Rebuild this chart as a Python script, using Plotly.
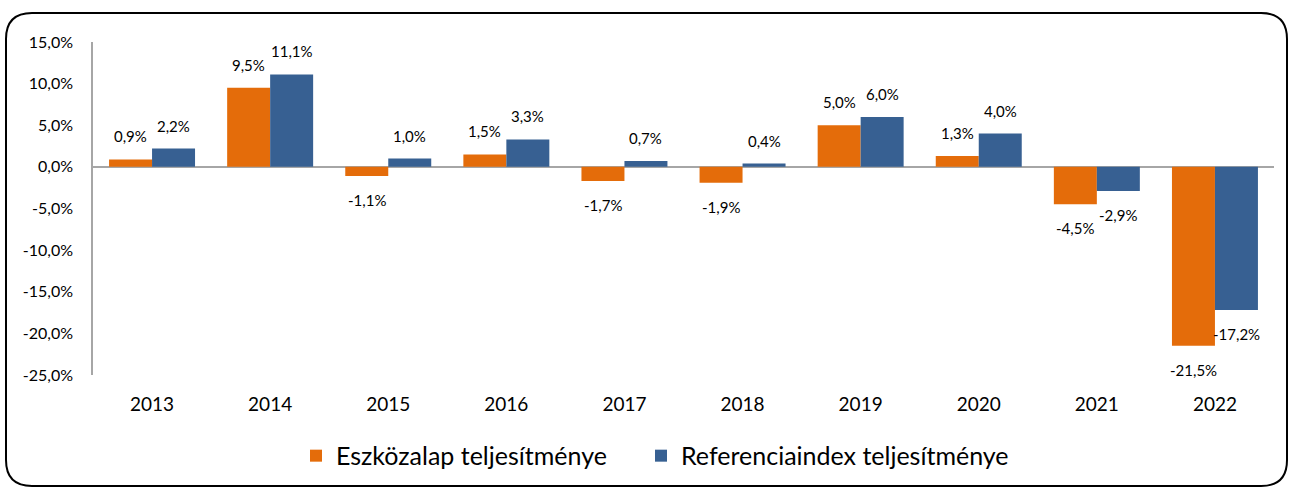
import plotly.graph_objects as go

years = ["2013", "2014", "2015", "2016", "2017", "2018", "2019", "2020", "2021", "2022"]
fund = [0.9, 9.5, -1.1, 1.5, -1.7, -1.9, 5.0, 1.3, -4.5, -21.5]
index = [2.2, 11.1, 1.0, 3.3, 0.7, 0.4, 6.0, 4.0, -2.9, -17.2]
series_names = ["Eszközalap teljesítménye", "Referenciaindex teljesítménye"]
ytick_vals = [15, 10, 5, 0, -5, -10, -15, -20, -25]
ytick_text = ["15,0%", "10,0%", "5,0%", "0,0%", "-5,0%", "-10,0%", "-15,0%", "-20,0%", "-25,0%"]

ORANGE = "#E46C0A"
BLUE = "#376092"
FONT = "Lato"

W, H = 1293, 490
L, R, T, B = 93, 19, 42, 115
pw, ph = W - L - R, H - T - B

def fmt(v):
    return f"{v:.1f}".replace(".", ",") + "%"

fig = go.Figure()
fig.add_trace(go.Bar(x=years, y=fund, name=series_names[0], legend="legend",
                     marker=dict(color=ORANGE, line=dict(width=0))))
fig.add_trace(go.Bar(x=years, y=index, name=series_names[1], legend="legend2",
                     marker=dict(color=BLUE, line=dict(width=0))))

annotations = []
for vals, xs in ((fund, -21.5), (index, 21.5)):
    for i, v in enumerate(vals):
        annotations.append(dict(
            x=i, y=v, xref="x", yref="y", text=fmt(v), showarrow=False,
            xshift=xs, yshift=23 if v >= 0 else -24, yanchor="middle", xanchor="center",
            font=dict(family=FONT, size=15, color="#000000")))

# rounded outer border (pixel coords -> paper coords)
def px(x):
    return (x - L) / pw
def py(y):
    return (H - B - y) / ph

x0, x1, y0, y1, r = 6, 1287, 13, 486, 26
path = (f"M {px(x0 + r)},{py(y0)} L {px(x1 - r)},{py(y0)} Q {px(x1)},{py(y0)} {px(x1)},{py(y0 + r)} "
        f"L {px(x1)},{py(y1 - r)} Q {px(x1)},{py(y1)} {px(x1 - r)},{py(y1)} "
        f"L {px(x0 + r)},{py(y1)} Q {px(x0)},{py(y1)} {px(x0)},{py(y1 - r)} "
        f"L {px(x0)},{py(y0 + r)} Q {px(x0)},{py(y0)} {px(x0 + r)},{py(y0)} Z")

legend_common = dict(orientation="h", y=-0.243, xanchor="left", yanchor="middle",
                     font=dict(family=FONT, size=25, color="#000000"),
                     bgcolor="rgba(0,0,0,0)")

fig.update_layout(
    width=W, height=H,
    margin=dict(l=L, r=R, t=T, b=B, autoexpand=False),
    paper_bgcolor="white", plot_bgcolor="white",
    barmode="group", bargap=0.272, bargroupgap=0,
    font=dict(family=FONT, color="#000000"),
    annotations=annotations,
    shapes=[dict(type="path", path=path, xref="paper", yref="paper",
                 line=dict(color="#000000", width=2), fillcolor="rgba(0,0,0,0)", layer="above")],
    legend=dict(x=px(296), **legend_common),
    legend2=dict(x=px(641), **legend_common),
    showlegend=True,
)
fig.update_xaxes(type="category", range=[-0.5, len(years) - 0.5],
                 showline=False, showgrid=False, zeroline=False, ticks="",
                 tickfont=dict(family=FONT, size=19), ticklabelstandoff=16)
fig.update_yaxes(range=[-25, 15], tickvals=ytick_vals, ticktext=ytick_text,
                 showgrid=False, showline=True, linecolor="#A6A6A6", linewidth=1.5,
                 zeroline=True, zerolinecolor="#A6A6A6", zerolinewidth=1.5,
                 ticks="", tickfont=dict(family=FONT, size=16), ticklabelstandoff=15)

fig.write_html("out.html", config={"displayModeBar": False},
               post_script="document.body.style.margin='0';document.body.style.overflow='hidden';")
